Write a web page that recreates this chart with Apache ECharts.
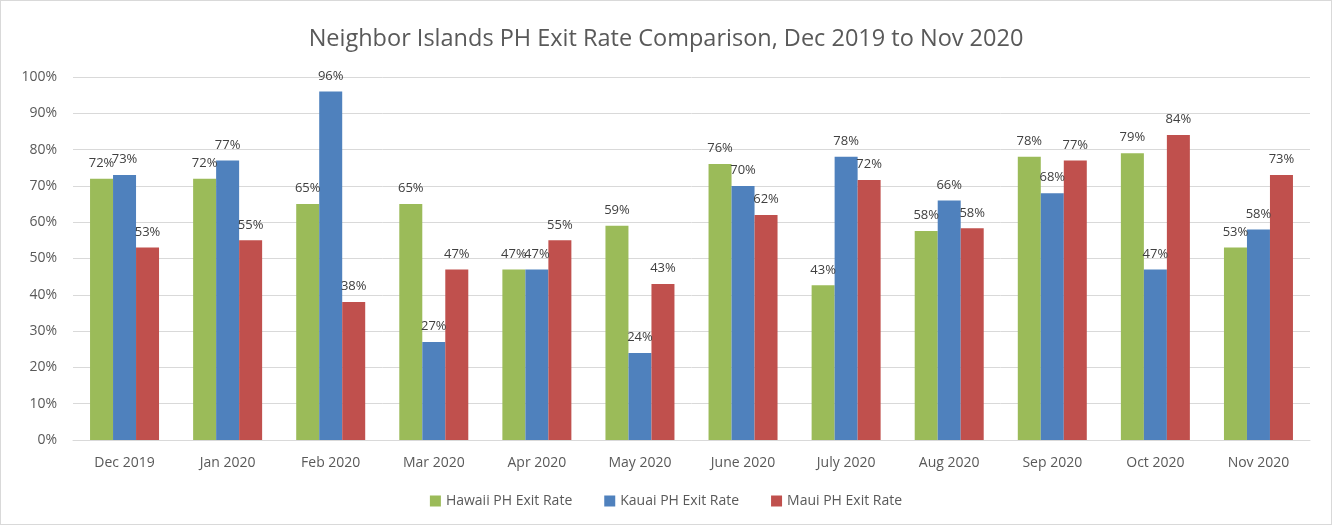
<!DOCTYPE html>
<html lang="en">
<head>
    <meta charset="UTF-8">
    <title>Neighbor Islands PH Exit Rate Comparison</title>
    <style>
        html, body { margin: 0; padding: 0; background: #fff; }
        #chart { width: 1332px; height: 525px; box-sizing: border-box; border: 1px solid #d9d9d9; }
    </style>
</head>
<body>
<div id="chart"></div>
<script src="https://cdn.jsdelivr.net/npm/echarts@6/dist/echarts.min.js"></script>
<script>
    // 月份
    var months = ['Dec 2019', 'Jan 2020', 'Feb 2020', 'Mar 2020', 'Apr 2020', 'May 2020',
        'June 2020', 'July 2020', 'Aug 2020', 'Sep 2020', 'Oct 2020', 'Nov 2020'];
    // 各岛退出率 (%)
    var hawaii = [72, 72, 65, 65, 47, 59, 76, 42.6, 57.6, 78, 79, 53];
    var kauai = [73, 77, 96, 27, 47, 24, 70, 78, 66, 68, 47, 58];
    var maui = [53, 55, 38, 47, 55, 43, 62, 71.6, 58.3, 77, 84, 73];
    var seriesNames = ['Hawaii PH Exit Rate', 'Kauai PH Exit Rate', 'Maui PH Exit Rate'];
    var colors = ['#9BBB59', '#4F81BD', '#C0504D'];

    var font = '"Open Sans", "Noto Sans", sans-serif';

    function makeSeries(name, data, color) {
        return {
            name: name,
            type: 'bar',
            data: data,
            barWidth: 23,
            barGap: '0%',
            itemStyle: { color: color },
            label: {
                show: true,
                position: 'top',
                distance: 9,
                color: '#404040',
                fontFamily: font,
                fontSize: 13,
                formatter: function (p) { return Math.round(p.value) + '%'; }
            }
        };
    }

    var myChart = echarts.init(document.getElementById('chart'));
    var option = {
        animation: false,
        color: colors,
        title: {
            text: 'Neighbor Islands PH Exit Rate Comparison, Dec 2019 to Nov 2020',
            left: 'center',
            top: 21,
            textStyle: { color: '#595959', fontFamily: font, fontSize: 23.5, fontWeight: 'normal' }
        },
        legend: {
            bottom: 11,
            itemWidth: 11,
            itemHeight: 11,
            itemGap: 32,
            icon: 'rect',
            textStyle: { color: '#595959', fontFamily: font, fontSize: 14 },
            data: seriesNames
        },
        grid: {
            left: 72,
            right: 21,
            top: 76,
            bottom: 84
        },
        xAxis: {
            type: 'category',
            data: months,
            axisLine: { lineStyle: { color: '#d9d9d9' } },
            axisTick: { show: false },
            axisLabel: { color: '#595959', fontFamily: font, fontSize: 14, margin: 16 }
        },
        yAxis: {
            type: 'value',
            min: 0,
            max: 100,
            interval: 10,
            axisLine: { show: false },
            axisTick: { show: false },
            splitLine: { lineStyle: { color: '#d9d9d9' } },
            axisLabel: {
                color: '#595959', fontFamily: font, fontSize: 14, margin: 16,
                formatter: '{value}%'
            }
        },
        series: [
            makeSeries(seriesNames[0], hawaii, colors[0]),
            makeSeries(seriesNames[1], kauai, colors[1]),
            makeSeries(seriesNames[2], maui, colors[2])
        ]
    };
    myChart.setOption(option);
</script>
</body>
</html>
